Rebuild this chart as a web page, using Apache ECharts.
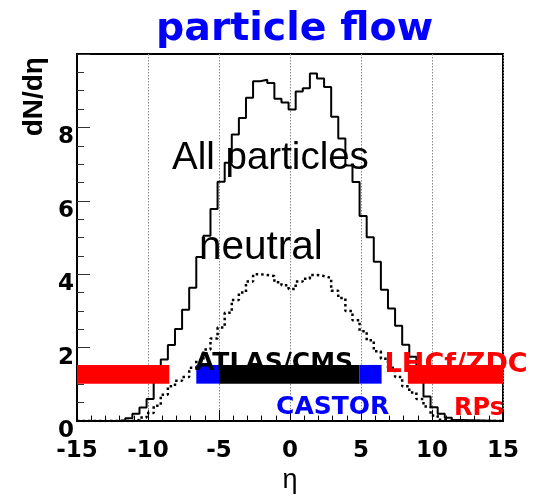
<!DOCTYPE html>
<html><head><meta charset="utf-8">
<script src="https://cdn.jsdelivr.net/npm/echarts@6/dist/echarts.min.js"></script>
<style>html,body{margin:0;padding:0;background:#fff}#c{width:535px;height:499px}</style>
</head><body><div id="c"></div>
<script>
// lower edges of the 0.5-wide eta bins
const binLowEdges = [-12.1,-11.6,-11.1,-10.6,-10.1,-9.6,-9.1,-8.6,-8.1,-7.6,-7.1,-6.6,-6.1,-5.6,-5.1,-4.6,-4.1,-3.6,-3.1,-2.6,-2.1,-1.6,-1.1,-0.6,-0.1,0.4,0.9,1.4,1.9,2.4,2.9,3.4,3.9,4.4,4.9,5.4,5.9,6.4,6.9,7.4,7.9,8.4,8.9,9.4,9.9,10.4,10.9,11.4];
const binWidth = 0.5;
const allParticles = [0.02,0.08,0.2,0.37,0.6,1.2,1.68,2.07,2.51,3.03,3.63,4.47,5.05,5.78,6.52,7.04,7.81,8.26,8.81,9.26,9.30,9.21,8.78,8.68,8.49,8.98,9.07,9.47,9.33,9.10,8.29,7.70,6.96,6.51,5.59,5.01,4.34,3.58,3.07,2.6,2.08,1.75,1.2,0.67,0.38,0.2,0.09,0.03];
const neutral = [0,0,0.03,0.1,0.22,0.42,0.72,0.95,1.1,1.2,1.45,1.65,1.95,2.25,2.55,2.95,3.3,3.5,3.8,4.0,3.98,3.95,3.78,3.7,3.6,3.8,3.88,3.98,3.95,3.9,3.55,3.35,3.0,2.75,2.45,2.2,1.9,1.7,1.45,1.2,0.95,0.78,0.6,0.4,0.15,0.04,0,0];
// detector coverage bands (eta ranges) drawn as bars
const coverageStart = [-15, -6.6, -5.0, 4.9, 8.3];
const coverageEnd = [-8.5, -5.0, 4.9, 6.45, 15];
const coverageLow = [1.02, 1.02, 1.02, 1.02, 1.02];
const coverageHigh = [1.53, 1.53, 1.53, 1.53, 1.53];
const coverageColors = ['#ff0000', '#0000ff', '#000000', '#0000ff', '#ff0000'];
const xMin = -15, xMax = 15, yMin = 0, yMax = 10;

function stepData(vals) {
  const d = [[xMin, 0]];
  for (let i = 0; i < binLowEdges.length; i++) d.push([binLowEdges[i], vals[i]]);
  d.push([binLowEdges[binLowEdges.length - 1] + binWidth, 0]);
  d.push([xMax, 0]);
  return d;
}
const coverageData = coverageStart.map((s, i) => [s, coverageEnd[i], coverageLow[i], coverageHigh[i]]);

const boldFont = 'DejaVu Sans';
const chart = echarts.init(document.getElementById('c'), null, {renderer: 'canvas'});
chart.setOption({
  animation: false,
  backgroundColor: '#ffffff',
  title: {
    text: 'particle flow', left: 156, top: 10, padding: 0,
    textStyle: {fontFamily: boldFont, fontWeight: 'bold', fontSize: 39.5, color: '#0000ff'}
  },
  grid: {left: 77, right: 32, top: 54, bottom: 63.2, show: true, borderColor: '#000', borderWidth: 2, backgroundColor: 'transparent'},
  xAxis: {
    type: 'value', min: xMin, max: xMax, interval: 5,
    name: 'η', nameLocation: 'middle', nameGap: 45,
    nameTextStyle: {fontFamily: 'Liberation Sans', fontSize: 27, color: '#000'},
    axisLine: {show: true, onZero: false, lineStyle: {color: '#000', width: 2}},
    axisTick: {show: true, inside: true, length: 11, lineStyle: {color: '#000', width: 1}},
    minorTick: {show: true, splitNumber: 5, length: 5.5, lineStyle: {color: '#000', width: 1}},
    splitLine: {show: true, lineStyle: {color: '#888', type: [1.5, 1.5], width: 1}},
    axisLabel: {margin: 18, fontFamily: boldFont, fontWeight: 'bold', fontSize: 23, color: '#000'}
  },
  yAxis: {
    type: 'value', min: yMin, max: yMax, interval: 2,
    axisLine: {show: true, onZero: false, lineStyle: {color: '#000', width: 2}},
    axisTick: {show: true, inside: true, length: 13, lineStyle: {color: '#333', width: 1}},
    minorTick: {show: true, splitNumber: 4, length: 7, lineStyle: {color: '#333', width: 1}},
    splitLine: {show: false},
    axisLabel: {margin: 3, fontFamily: boldFont, fontWeight: 'bold', fontSize: 23, color: '#000',
      formatter: v => (v % 2 === 0 && v < 10 ? '{a|' + v + '}' : ''),
      rich: {a: {fontFamily: boldFont, fontWeight: 'bold', fontSize: 23, color: '#000', padding: [20, 0, 0, 0]}}}
  },
  series: [
    {type: 'line', name: 'All particles', data: stepData(allParticles), step: 'end', symbol: 'none', z: 2,
      lineStyle: {color: '#000', width: 2}},
    {type: 'line', name: 'neutral', data: stepData(neutral), step: 'end', symbol: 'none', z: 2,
      lineStyle: {color: '#000', width: 2.5, type: [2.5, 3]}},
    {type: 'custom', name: 'coverage', data: coverageData, z: 5,
      encode: {x: [0, 1], y: [2, 3]},
      renderItem: function (params, api) {
        const p0 = api.coord([api.value(0), api.value(3)]);
        const p1 = api.coord([api.value(1), api.value(2)]);
        return {type: 'rect', shape: {x: p0[0], y: p0[1], width: p1[0] - p0[0], height: p1[1] - p0[1]},
          style: {fill: coverageColors[params.dataIndex]}};
      }}
  ],
  graphic: [
    {type: 'text', x: 34.1, y: 96.7, rotation: Math.PI / 2, z: 10,
      style: {text: 'dN/dη', font: 'bold 28px "Liberation Sans"', fill: '#000', align: 'center', verticalAlign: 'middle'}},
    {type: 'text', x: 172, y: 158, z: 10,
      style: {text: 'All particles', font: '38.5px "Liberation Sans"', fill: '#000', align: 'left', verticalAlign: 'middle'}},
    {type: 'text', x: 199, y: 248.3, z: 10,
      style: {text: 'neutral', font: '40.5px "Liberation Sans"', fill: '#000', align: 'left', verticalAlign: 'middle'}},
    {type: 'text', x: 274, y: 363.5, z: 10,
      style: {text: 'ATLAS/CMS', font: 'bold 25px "DejaVu Sans"', fill: '#000', align: 'center', verticalAlign: 'middle'}},
    {type: 'text', x: 332.7, y: 407.7, z: 10,
      style: {text: 'CASTOR', font: 'bold 25px "DejaVu Sans"', fill: '#0000ff', align: 'center', verticalAlign: 'middle'}},
    {type: 'text', x: 384.6, y: 365.1, z: 10,
      style: {text: 'LHCf/ZDC', font: 'bold 27px "DejaVu Sans"', fill: '#ff0000', align: 'left', verticalAlign: 'middle'}},
    {type: 'text', x: 479, y: 408.8, z: 10,
      style: {text: 'RPs', font: 'bold 24px "DejaVu Sans"', fill: '#ff0000', align: 'center', verticalAlign: 'middle'}}
  ]
});
</script></body></html>
